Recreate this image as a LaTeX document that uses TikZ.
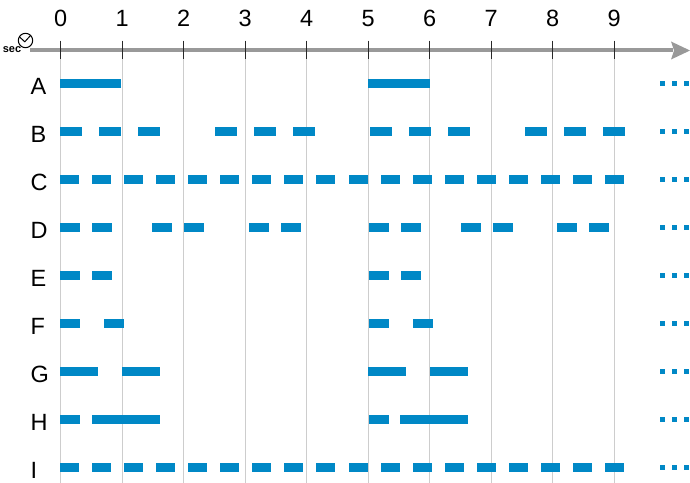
\documentclass[tikz,border=0pt]{standalone}
\usepackage{fontspec}
\setmainfont{Liberation Sans}
\definecolor{barblue}{RGB}{0,136,198}
\definecolor{axisgray}{RGB}{153,153,153}
\definecolor{gridgray}{RGB}{205,205,205}
\definecolor{tickdark}{RGB}{40,40,40}
\begin{document}
\begin{tikzpicture}[x=1bp,y=-1bp,
  lbl/.style={font=\fontsize{23.5bp}{26bp}\selectfont, inner sep=0pt, text=black},
  gridline/.style={draw=gridgray, line width=1.2bp},
  tickline/.style={draw=tickdark, line width=1bp},
  bar/.style={fill=barblue, draw=none},
  dotsq/.style={fill=barblue, draw=none}]
\useasboundingbox (0,0) rectangle (690,483);
\fill[white] (0,0) rectangle (690,483);
% grid lines
\foreach \k in {0,...,9}{
  \draw[gridline] ({60.7+61.5*\k},50) -- ({60.7+61.5*\k},483);
}
% axis
\draw[draw=axisgray, line width=4bp] (30,50.5) -- (673,50.5);
\fill[axisgray] (671,41.5) -- (690,50.5) -- (671,59.5) -- (674,50.5) -- cycle;
% ticks and labels
\foreach \k in {0,...,9}{
  \draw[tickline] ({60.7+61.5*\k},40.7) -- ({60.7+61.5*\k},59.3);
  \node[lbl, anchor=base] (t\k) at ({60.7+61.5*\k},26.6) {\k};
}
% sec icon
\draw[black, line width=1bp] (25.5,40.5) circle (7.2);
\draw[black, line width=1bp, line join=round] (19.6,37.0) -- (24.8,41.8) -- (30.8,35.2);
\node[font=\bfseries\fontsize{11bp}{12bp}\selectfont, inner sep=0pt, anchor=base] (sec) at (12,52.5) {sec};
% row labels
\foreach \l [count=\i from 0] in {A,B,C,D,E,F,G,H,I}{
  \node[lbl, anchor=base west] (r\l) at (30.5,{83.5+48*\i+10.7}) {\l};
  \foreach \dx in {660,672,684}{
    \fill[dotsq] (\dx,{83.5+48*\i-2.3}) rectangle ({\dx+5},{83.5+48*\i+2.3});
  }
}
% bars
\newcommand{\barrow}[2]{%
  \foreach \a/\b in {#2}{\fill[bar] (\a,{83.5+48*#1-4.5}) rectangle (\b,{83.5+48*#1+4.5});}}
% A
\barrow{0}{60/121, 368/430}
% B
\foreach \s in {60,99,138,215,254,293,370,409,448,525,564,603}{
  \fill[bar] (\s,{83.5+48-4.5}) rectangle ({\s+22},{83.5+48+4.5});}
% C and I
\foreach \r in {2,8}{
  \foreach \k in {0,...,17}{
    \fill[bar] ({60+32.06*\k},{83.5+48*\r-4.5}) rectangle ({79+32.06*\k},{83.5+48*\r+4.5});}}
% D
\foreach \s in {60,92,152,184,249,281,369,401,461,493,557,589}{
  \fill[bar] (\s,{83.5+48*3-4.5}) rectangle ({\s+20},{83.5+48*3+4.5});}
% E
\foreach \s in {60,92,369,401}{
  \fill[bar] (\s,{83.5+48*4-4.5}) rectangle ({\s+20},{83.5+48*4+4.5});}
% F
\foreach \s in {60,104,369,413}{
  \fill[bar] (\s,{83.5+48*5-4.5}) rectangle ({\s+20},{83.5+48*5+4.5});}
% G
\barrow{6}{60/98, 122/160, 368/406, 430/468}
% H
\barrow{7}{60/80, 92/160, 369/389, 400/468}
\end{tikzpicture}
\end{document}
